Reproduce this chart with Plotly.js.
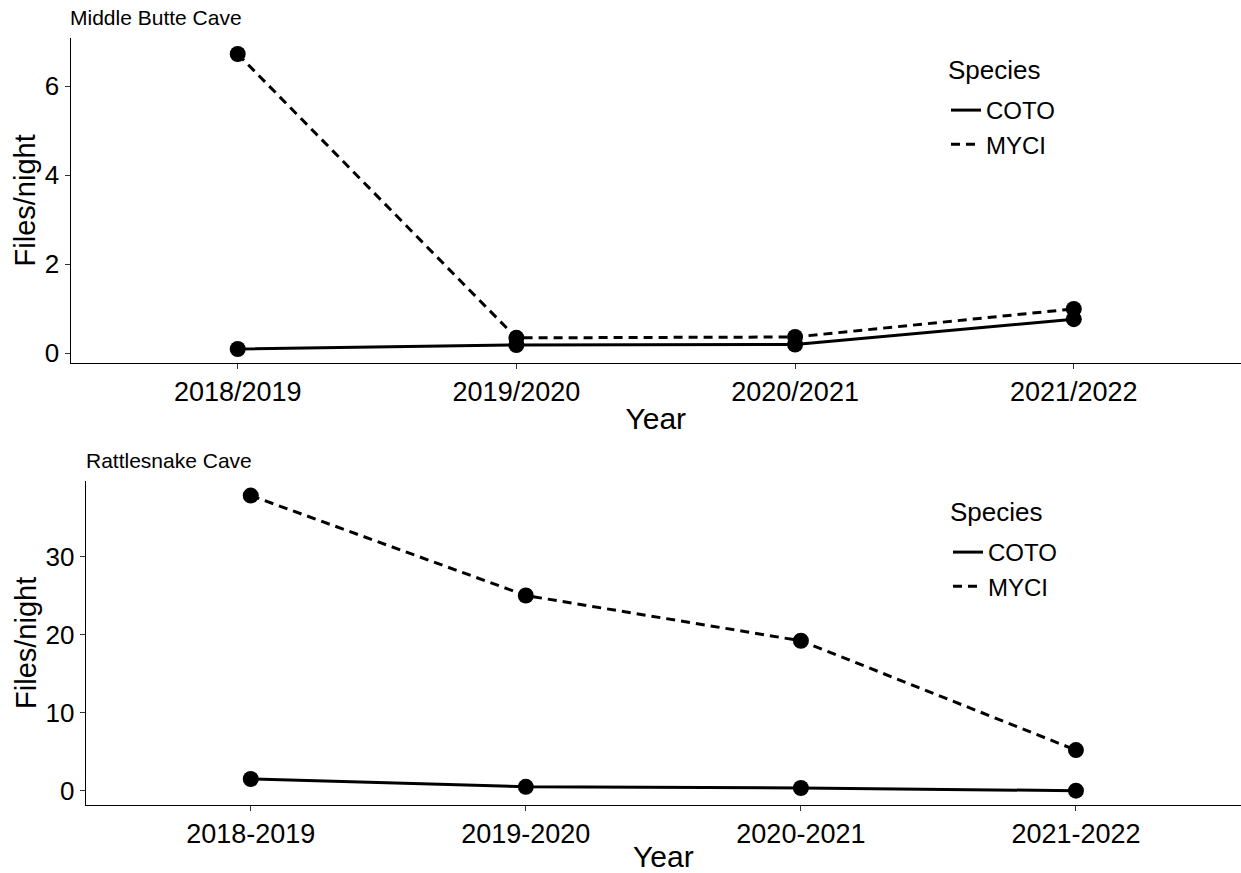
<!DOCTYPE html>
<html><head><meta charset="utf-8">
<script src="https://cdn.plot.ly/plotly-3.0.1.min.js"></script>
<style>html,body{margin:0;padding:0;background:#fff}#chart{width:1241px;height:873px}</style>
</head><body><div id="chart"></div>
<script>
const yearsTop = ["2018/2019","2019/2020","2020/2021","2021/2022"];
const yearsBottom = ["2018-2019","2019-2020","2020-2021","2021-2022"];
const mbCOTO = [0.09, 0.18, 0.19, 0.76];
const mbMYCI = [6.72, 0.34, 0.36, 0.99];
const rsCOTO = [1.5, 0.5, 0.35, 0.0];
const rsMYCI = [37.8, 25.0, 19.2, 5.2];

const F = "Liberation Sans, Arial, sans-serif";
const LW = 3;
function lineTrace(x, y, name, dash, xa, ya, leg){
  return {x, y, name, mode:"lines", type:"scatter", xaxis:xa, yaxis:ya, legend:leg,
    line:{color:"#000", width:LW, dash:dash}, hoverinfo:"skip"};
}
function markTrace(x, y, xa, ya){
  return {x, y, mode:"markers", type:"scatter", xaxis:xa, yaxis:ya, showlegend:false,
    marker:{color:"#000", size:16}, hoverinfo:"skip"};
}
const DASH = "9px,6px";
const data = [
  lineTrace(yearsTop, mbCOTO, "COTO", "solid", "x", "y", "legend"),
  lineTrace(yearsTop, mbMYCI, "MYCI", DASH, "x", "y", "legend"),
  markTrace(yearsTop, mbCOTO, "x", "y"),
  markTrace(yearsTop, mbMYCI, "x", "y"),
  lineTrace(yearsBottom, rsCOTO, "COTO", "solid", "x2", "y2", "legend2"),
  lineTrace(yearsBottom, rsMYCI, "MYCI", DASH, "x2", "y2", "legend2"),
  markTrace(yearsBottom, rsCOTO, "x2", "y2"),
  markTrace(yearsBottom, rsMYCI, "x2", "y2")
];
const H = 873, W = 1241;
function xax(domainLeft, anchor){
  return {domain:[domainLeft,1], anchor:anchor, type:"category", range:[-0.6,3.6],
    showline:true, linecolor:"#000", linewidth:1, ticks:"outside", ticklen:5, tickcolor:"#333",
    showgrid:false, zeroline:false, tickfont:{family:F, size:27, color:"#000"},
    title:{text:"Year", font:{family:F, size:30, color:"#000"}, standoff:1}};
}
function yax(domain, anchor, range, dtick){
  return {domain:domain, anchor:anchor, range:range, dtick:dtick, tick0:0,
    showline:true, linecolor:"#000", linewidth:1, ticks:"outside", ticklen:5, tickcolor:"#333",
    showgrid:false, zeroline:false, tickfont:{family:F, size:26, color:"#000"},
    title:{text:"Files/night", font:{family:F, size:29, color:"#000"}, standoff:0}};
}
function legendCfg(xpx, ypx){
  return {x:xpx/W, y:1-ypx/H, xanchor:"left", yanchor:"top", bgcolor:"rgba(0,0,0,0)",
    font:{family:F, size:24, color:"#000"},
    itemwidth:30, tracegroupgap:0};
}
const layout = {
  width:W, height:H, margin:{l:0,r:0,t:0,b:0}, paper_bgcolor:"#fff", plot_bgcolor:"#fff",
  showlegend:true,
  xaxis: xax(70.5/W, "y"),
  yaxis: yax([1-362.7/H, 1-38/H], "x", [-0.218, 7.08], 2),
  xaxis2: xax(85.7/W, "y2"),
  yaxis2: yax([1-805/H, 1-480.7/H], "x2", [-1.83, 39.7], 10),
  legend: legendCfg(946, 88),
  legend2: legendCfg(948, 530),
  annotations:[
    {text:"Middle Butte Cave", xref:"paper", yref:"paper", x:68/W, y:1-4/H, xanchor:"left", yanchor:"top",
     showarrow:false, font:{family:F, size:21, color:"#000"}},
    {text:"Rattlesnake Cave", xref:"paper", yref:"paper", x:84/W, y:1-447/H, xanchor:"left", yanchor:"top",
     showarrow:false, font:{family:F, size:21, color:"#000"}},
    {text:"Species", xref:"paper", yref:"paper", x:946/W, y:1-70/H, xanchor:"left", yanchor:"middle",
     showarrow:false, font:{family:F, size:26, color:"#000"}},
    {text:"Species", xref:"paper", yref:"paper", x:948/W, y:1-512/H, xanchor:"left", yanchor:"middle",
     showarrow:false, font:{family:F, size:26, color:"#000"}}
  ]
};
Plotly.newPlot("chart", data, layout, {displayModeBar:false, staticPlot:true});
</script></body></html>
